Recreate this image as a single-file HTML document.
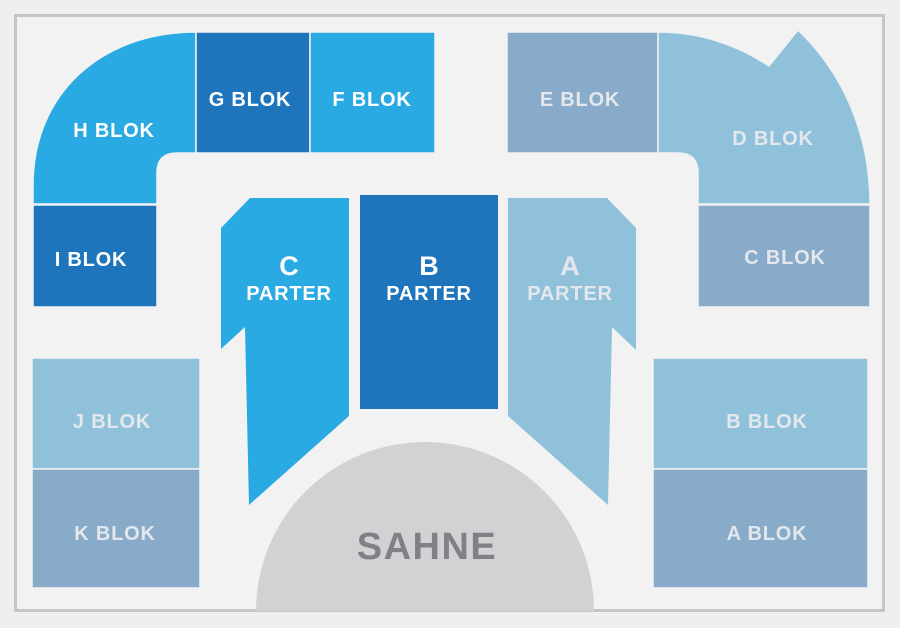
<!DOCTYPE html>
<html><head><style>
html,body{margin:0;padding:0;background:#efefef;}
svg{display:block}
text{font-family:"Liberation Sans",sans-serif;font-weight:bold;text-anchor:middle;}
</style></head><body>
<svg width="900" height="628" viewBox="0 0 900 628">
<rect x="0" y="0" width="900" height="628" fill="#efefef"/>
<rect x="15.5" y="15.5" width="868" height="595" fill="#f2f2f2" stroke="#c6c6c6" stroke-width="3"/>
<g stroke="#f2f2f2" stroke-width="1.5">
<path d="M33,204 L33,185 C33,95 100,32 196,32 L196,153 L177,153 Q157,153 157,173 L157,204 Z" fill="#29aae2"/>
<rect x="196" y="32" width="114" height="121" fill="#1f75bb"/>
<rect x="310" y="32" width="125" height="121" fill="#29aae2"/>
<rect x="33" y="205" width="124" height="102" fill="#1f75bb"/>
<rect x="507" y="32" width="151" height="121" fill="#87abc8"/>
<path d="M658,32 L658,153 L678,153 Q698,153 698,173 L698,204 L870,204 C870,130 840,70 798,30 L769,66 C738,45 700,32 658,32 Z" fill="#8fc2da"/>
<rect x="698" y="205" width="172" height="102" fill="#87abc8"/>
<rect x="32" y="358" width="168" height="111" fill="#8fc2da"/>
<rect x="32" y="469" width="168" height="119" fill="#87abc8"/>
<rect x="653" y="358" width="215" height="111" fill="#8fc2da"/>
<rect x="653" y="469" width="215" height="119" fill="#87abc8"/>
</g>
<polygon points="221,228 250,198 349,198 349,416 249,505 245,327 221,349" fill="#29aae2"/>
<rect x="360" y="195" width="138" height="214" fill="#1f75bb"/>
<polygon points="508,198 607,198 636,228 636,350 612,327 608,505 508,416" fill="#8fc2da"/>
<path d="M256,611 A169,169 0 0 1 594,611 Z" fill="#d1d2d4"/>
<g font-size="20" letter-spacing="0.8">
<text x="114" y="137" fill="#fff">H BLOK</text>
<text x="250" y="106" fill="#fff">G BLOK</text>
<text x="372" y="106" fill="#fff">F BLOK</text>
<text x="91" y="266" fill="#fff">I BLOK</text>
<text x="580" y="106" fill="#e4e8ec">E BLOK</text>
<text x="773" y="145" fill="#e4e8ec">D BLOK</text>
<text x="785" y="264" fill="#e4e8ec">C BLOK</text>
<text x="112" y="428" fill="#e4e8ec">J BLOK</text>
<text x="115" y="540" fill="#e4e8ec">K BLOK</text>
<text x="767" y="428" fill="#e4e8ec">B BLOK</text>
<text x="767" y="540" fill="#e4e8ec">A BLOK</text>
<text x="289" y="300" fill="#fff">PARTER</text>
<text x="429" y="300" fill="#fff">PARTER</text>
<text x="570" y="300" fill="#e4e8ec">PARTER</text>
</g>
<g font-size="27">
<text x="289" y="275" fill="#fff">C</text>
<text x="429" y="275" fill="#fff">B</text>
<text x="570" y="275" fill="#e4e8ec">A</text>
</g>
<text x="427" y="559" font-size="38" letter-spacing="1.5" fill="#808184">SAHNE</text>
</svg>
</body></html>
